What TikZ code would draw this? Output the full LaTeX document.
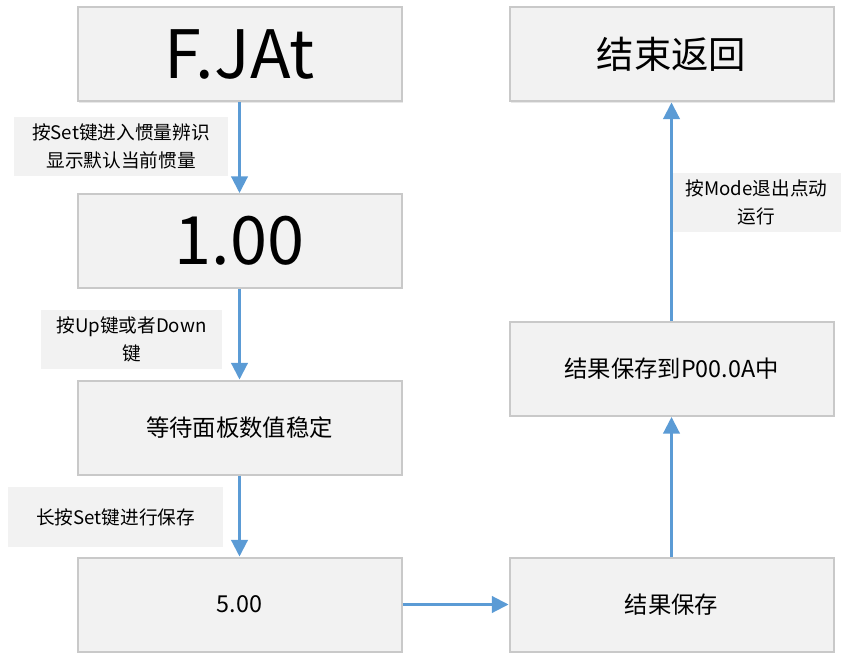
\documentclass[tikz,border=0pt]{standalone}
\usepackage{fontspec}
\setmainfont{Noto Sans CJK SC}
\usetikzlibrary{arrows.meta}
\usetikzlibrary{shadows}

\definecolor{boxfill}{HTML}{F2F2F2}
\definecolor{boxline}{HTML}{C9C9C9}
\definecolor{flowblue}{HTML}{5B9BD5}

\begin{document}
\begin{tikzpicture}[x=0.75pt,y=-0.75pt,
    stepbox/.style={draw=boxline,line width=1.5pt,fill=boxfill,
      minimum width=243pt,minimum height=70.5pt,inner sep=0pt,
      drop shadow={shadow xshift=1pt,shadow yshift=-1pt,opacity=0.18},
      font=\fontsize{17.5}{21}\selectfont},
    bigtext/.style={font=\fontsize{50}{58}\selectfont},
    notebox/.style={fill=boxfill,inner sep=0pt,align=center,
      font=\fontsize{14}{21}\selectfont},
    flow/.style={color=flowblue,line width=1.6pt,
      -{Triangle[length=12.5pt,width=12.5pt]}}]

  \useasboundingbox (0,0) rectangle (841,655);

  % left column
  \node [stepbox,bigtext] (fjat) at (239.5,54.5) {F.JAt};
  \node [stepbox,bigtext] (one)  at (239.5,241)  {1.00};
  \node [stepbox] (wait) at (239.5,427.5) {等待面板数值稳定};
  \node [stepbox] (five) at (239.5,604.5) {5.00};

  % right column
  \node [stepbox] (save)  at (671.5,604.5) {结果保存};
  \node [stepbox] (savep) at (671.5,369)   {结果保存到P00.0A中};
  \node [stepbox,font=\fontsize{28}{32}\selectfont] (back) at (671.5,54.5) {结束返回};

  % notes beside the arrows
  \node [notebox,minimum width=160.5pt,minimum height=44pt] (note_set)
    at (121,146.5) {按Set键进入惯量辨识\\显示默认当前惯量};
  \node [notebox,minimum width=136pt,minimum height=44pt] (note_updown)
    at (131.5,339.5) {按Up键或者Down\\键};
  \node [notebox,minimum width=161pt,minimum height=45pt] (note_hold)
    at (115.5,517) {长按Set键进行保存};
  \node [notebox,minimum width=127pt,minimum height=44pt] (note_mode)
    at (756.5,202.5) {按Mode退出点动\\运行};

  \path [flow]
    (fjat)  edge [flow] (one)
    (one)   edge [flow] (wait)
    (wait)  edge [flow] (five)
    (five)  edge [flow] (save)
    (save)  edge [flow] (savep)
    (savep) edge [flow] (back);

\end{tikzpicture}
\end{document}
